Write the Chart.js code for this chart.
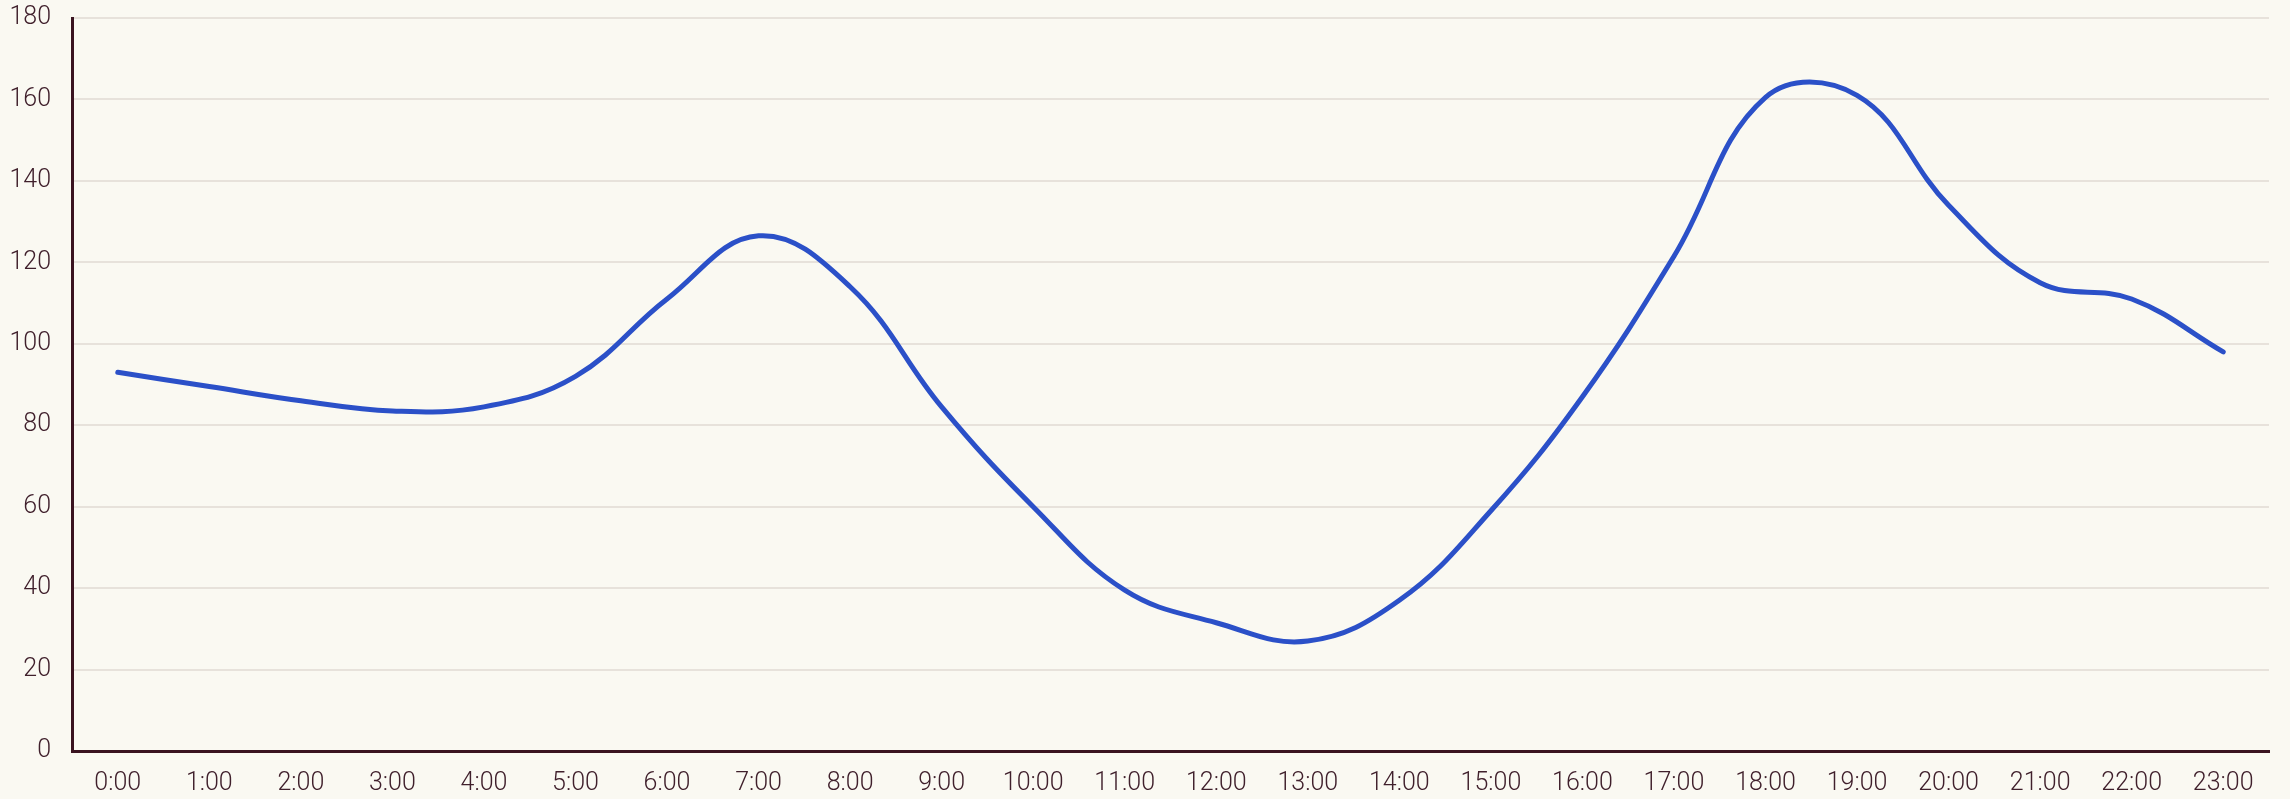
<!DOCTYPE html>
<html>
<head>
<meta charset="utf-8">
<script src="https://cdn.jsdelivr.net/npm/chart.js@4"></script>
<style>
  html, body { margin: 0; padding: 0; background: #faf9f2; }
  #wrap { width: 2290px; height: 799px; }
</style>
</head>
<body>
<div id="wrap"><canvas id="grafico"></canvas></div>
<script>
const horas = ["0:00","1:00","2:00","3:00","4:00","5:00","6:00","7:00","8:00","9:00","10:00","11:00",
  "12:00","13:00","14:00","15:00","16:00","17:00","18:00","19:00","20:00","21:00","22:00","23:00"];
const valores = [93, 89.5, 86, 83.5, 84.5, 92, 111, 126.5, 114, 84.5, 60, 39.5,
  31.5, 27, 37, 59, 87, 121.5, 160.5, 161, 134, 115, 111, 98];
const escalaY = { min: 0, max: 180, passo: 20 };

const corTexto = "#40202c";
const corEixo = "#3a1420";

Chart.defaults.font.family = "Roboto";
Chart.defaults.font.weight = 300;
Chart.defaults.font.size = 25;
Chart.defaults.color = corTexto;

new Chart(document.getElementById("grafico"), {
  type: "line",
  data: {
    labels: horas,
    datasets: [{
      data: valores,
      borderColor: "#2b50c8",
      borderWidth: 5,
      borderCapStyle: "round",
      tension: 0.4,
      pointRadius: 0,
      fill: false
    }]
  },
  options: {
    responsive: true,
    maintainAspectRatio: false,
    animation: false,
    layout: { padding: { top: 18, right: 21, bottom: 0, left: 8 } },
    plugins: {
      legend: { display: false },
      tooltip: { enabled: false }
    },
    scales: {
      x: {
        offset: true,
        grid: { display: false, drawTicks: false },
        border: { display: true, color: corEixo, width: 3 },
        ticks: { padding: 18, maxRotation: 0, autoSkip: false },
        afterFit: (s) => { s.height = 48; s.paddingLeft = 0; s.paddingRight = 0; }
      },
      y: {
        min: escalaY.min,
        max: escalaY.max,
        grid: { color: "#e7e2db", lineWidth: 2, drawTicks: false },
        border: { display: true, color: corEixo, width: 3 },
        ticks: { stepSize: escalaY.passo, padding: 21 },
        afterFit: (s) => { s.width = 64; s.paddingTop = 0; s.paddingBottom = 0; }
      }
    }
  }
});
</script>
</body>
</html>
